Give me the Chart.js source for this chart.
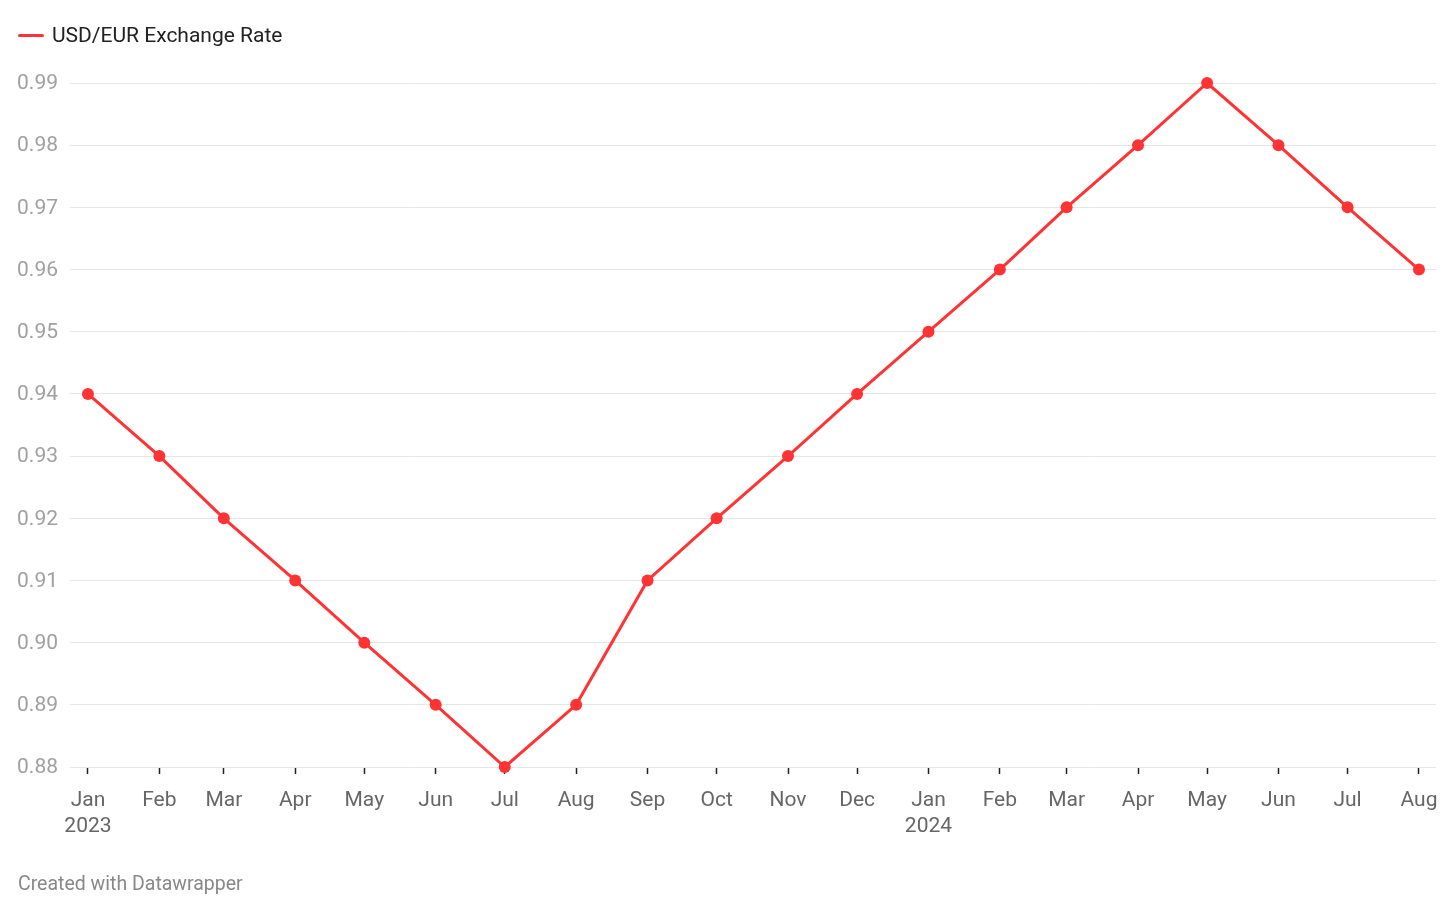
<!DOCTYPE html>
<html>
<head>
<meta charset="utf-8">
<script src="https://cdn.jsdelivr.net/npm/chart.js@4/dist/chart.umd.min.js"></script>
<style>
  html, body { margin: 0; padding: 0; background: #fff; }
  body { width: 1456px; height: 914px; position: relative; overflow: hidden; font-family: Roboto, "Noto Sans", sans-serif; }
  #chart-wrap { position: absolute; left: 0; top: 0; width: 1456px; height: 914px; }
  .legend { position: absolute; left: 18px; top: 22px; height: 26px; display: flex; align-items: center; font-size: 21px; color: #222; }
  .legend .swatch { width: 26px; height: 3px; background: #ff3333; border-radius: 2px; margin-right: 8px; }
  .footer { position: absolute; left: 18px; top: 872px; font-size: 19.5px; color: #888; }
</style>
</head>
<body>
<div id="chart-wrap"><canvas id="rate-chart"></canvas></div>
<div class="legend"><span class="swatch"></span>USD/EUR Exchange Rate</div>
<div class="footer">Created with Datawrapper</div>
<script>
// Monthly observations
const months = [
  '2023-01-01', '2023-02-01', '2023-03-01', '2023-04-01', '2023-05-01', '2023-06-01',
  '2023-07-01', '2023-08-01', '2023-09-01', '2023-10-01', '2023-11-01', '2023-12-01',
  '2024-01-01', '2024-02-01', '2024-03-01', '2024-04-01', '2024-05-01', '2024-06-01',
  '2024-07-01', '2024-08-01'
];
const rates = [
  0.94, 0.93, 0.92, 0.91, 0.90, 0.89, 0.88, 0.89, 0.91, 0.92, 0.93, 0.94,
  0.95, 0.96, 0.97, 0.98, 0.99, 0.98, 0.97, 0.96
];
const xTickLabels = [
  ['Jan', '2023'], 'Feb', 'Mar', 'Apr', 'May', 'Jun', 'Jul', 'Aug', 'Sep', 'Oct', 'Nov', 'Dec',
  ['Jan', '2024'], 'Feb', 'Mar', 'Apr', 'May', 'Jun', 'Jul', 'Aug'
];
const yTicks = [0.88, 0.89, 0.90, 0.91, 0.92, 0.93, 0.94, 0.95, 0.96, 0.97, 0.98, 0.99];

const DAY = 86400000;
const dayNums = months.map(m => Date.parse(m) / DAY); // days since epoch, keeps month spacing true

const ctx = document.getElementById('rate-chart').getContext('2d');
new Chart(ctx, {
  type: 'line',
  data: {
    datasets: [{
      label: 'USD/EUR Exchange Rate',
      data: dayNums.map((d, i) => ({ x: d, y: rates[i] })),
      borderColor: '#ff3333',
      backgroundColor: '#ff3333',
      borderWidth: 3,
      pointRadius: 6,
      pointHoverRadius: 6,
      pointBorderWidth: 0,
      tension: 0,
      clip: false
    }]
  },
  options: {
    responsive: true,
    maintainAspectRatio: false,
    animation: false,
    layout: { padding: { left: 18, right: 20, top: 83, bottom: 0 } },
    plugins: { legend: { display: false }, tooltip: { enabled: false } },
    scales: {
      x: {
        type: 'linear',
        min: dayNums[0] - 7.8,
        max: dayNums[dayNums.length - 1] + 7.4,
        afterBuildTicks: scale => { scale.ticks = dayNums.map(v => ({ value: v })); },
        afterFit: scale => { scale.height = 147; },
        grid: { drawOnChartArea: false, drawTicks: true, tickLength: 7, tickColor: '#222', tickWidth: 1.5 },
        border: { display: false },
        ticks: {
          autoSkip: false,
          maxRotation: 0,
          padding: 14,
          color: '#666',
          font: { family: 'Roboto', size: 21, lineHeight: 1.24 },
          callback: (value, index) => xTickLabels[index]
        }
      },
      y: {
        min: 0.88,
        max: 0.99,
        afterBuildTicks: scale => { scale.ticks = yTicks.map(v => ({ value: v })); },
        afterFit: scale => { scale.width = 52; },
        grid: { color: '#e6e6e6', lineWidth: 1, drawTicks: false },
        border: { display: false },
        ticks: {
          padding: 12,
          labelOffset: 1,
          color: '#a0a0a0',
          font: { family: 'Roboto', size: 21 },
          callback: value => value.toFixed(2)
        }
      }
    }
  }
});
</script>
</body>
</html>
